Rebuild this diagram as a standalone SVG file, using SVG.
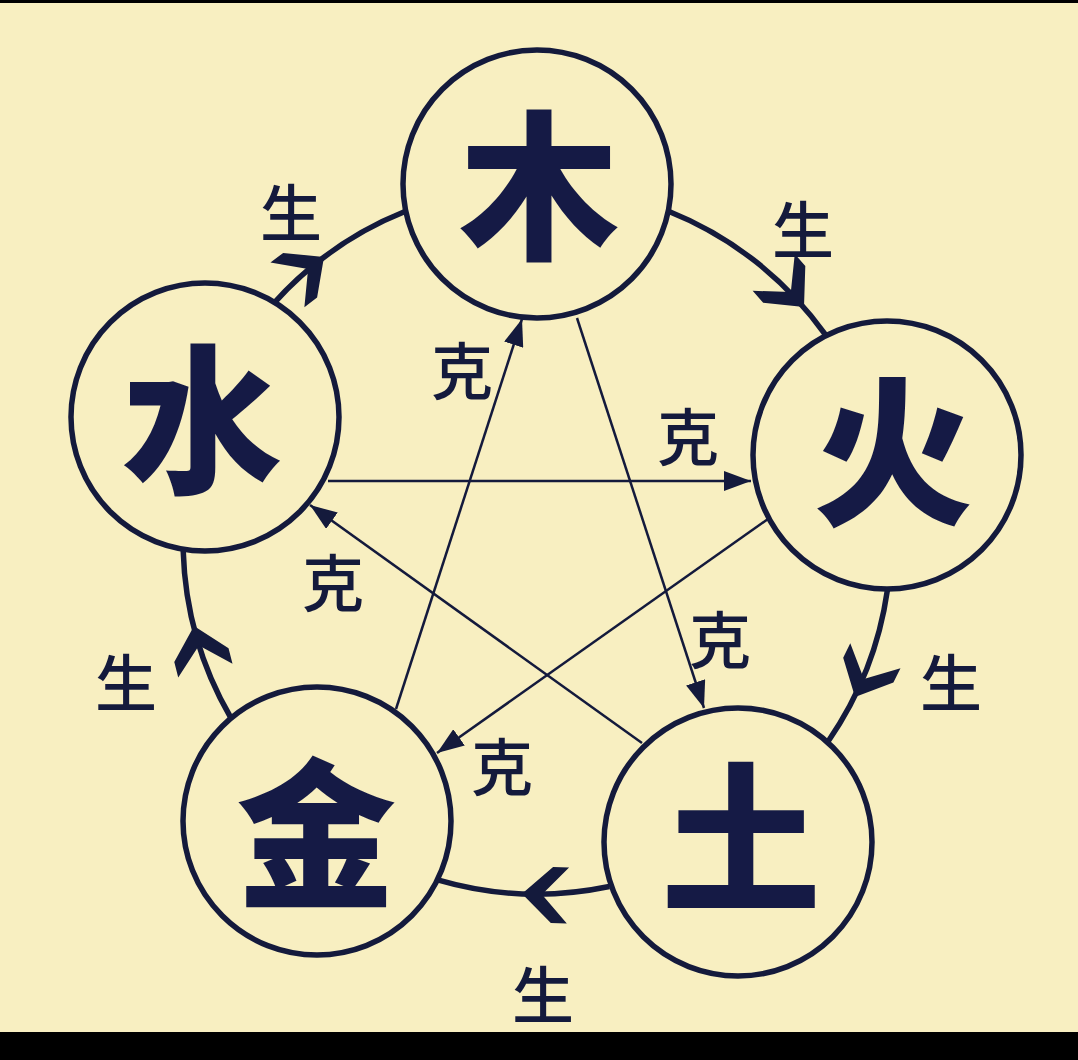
<svg xmlns="http://www.w3.org/2000/svg" width="1078" height="1060" viewBox="0 0 1078 1060">
<style>
.bg{fill:#f8efc1}
.node{fill:#f8efc1;stroke:#141a3c;stroke-width:5.5}
.big{font-family:"Noto Sans CJK SC","Noto Sans CJK JP",sans-serif;font-size:160px;font-weight:900;fill:#151a45;text-anchor:middle}
.lbl{font-family:"Noto Sans CJK SC","Noto Sans CJK JP",sans-serif;font-size:62px;font-weight:500;fill:#141a3c;text-anchor:middle}
.sheng{fill:none;stroke:#141a3c;stroke-width:5.5}
.ke{fill:none;stroke:#141a3c;stroke-width:2.5;marker-end:url(#tri)}
.chev{fill:#141a3c}
</style>
<defs>
<marker id="tri" markerUnits="userSpaceOnUse" markerWidth="28" markerHeight="20" refX="27" refY="10" orient="auto" viewBox="0 0 28 20">
<path d="M0,0 L27,10 L0,20 z" fill="#141a3c"/>
</marker>
<polygon id="chevron" points="0,0 -30,-28 -46,-28 -20,0 -46,28 -30,28"/>
</defs>
<rect class="bg" x="0" y="0" width="1078" height="1060"/>
<rect x="0" y="0" width="1078" height="3" fill="#000"/>
<rect x="0" y="1032" width="1078" height="28" fill="#000"/>

<g id="connectors">
<path class="sheng" d="M273.3,303.8 A354,354 0 0 1 405.5,211.3"/>
<path class="sheng" d="M668.5,211.3 A354,354 0 0 1 825.4,334.7"/>
<path class="sheng" d="M887.4,590.2 A354,354 0 0 1 828.4,741.0"/>
<path class="sheng" d="M609.4,886.5 A354,354 0 0 1 437.6,879.8"/>
<path class="sheng" d="M230.7,717.5 A354,354 0 0 1 183.2,550.8"/>
<use href="#chevron" class="chev" transform="translate(324,257) rotate(-37.3)"/>
<use href="#chevron" class="chev" transform="translate(804,307) rotate(48.8)"/>
<use href="#chevron" class="chev" transform="translate(855,697) rotate(116.3)"/>
<use href="#chevron" class="chev" transform="translate(522,893.7) rotate(182.3)"/>
<use href="#chevron" class="chev" transform="translate(194.0,626) rotate(255.7)"/>
<line class="ke" x1="396" y1="709" x2="522" y2="319"/>
<line class="ke" x1="577" y1="318" x2="704" y2="708"/>
<line class="ke" x1="642" y1="743" x2="310" y2="505"/>
<line class="ke" x1="328" y1="481" x2="751" y2="481"/>
<line class="ke" x1="768" y1="519" x2="437" y2="753"/>
<text class="lbl" x="291" y="237">生</text>
<text class="lbl" x="803" y="254">生</text>
<text class="lbl" x="951" y="707">生</text>
<text class="lbl" x="543" y="1019">生</text>
<text class="lbl" x="126" y="707">生</text>
<text class="lbl" x="462" y="395">克</text>
<text class="lbl" x="688" y="461">克</text>
<text class="lbl" x="333" y="607">克</text>
<text class="lbl" x="720" y="664">克</text>
<text class="lbl" x="502" y="791">克</text>
</g>

<g id="node-wood"><circle class="node" cx="537" cy="184" r="134"/><text class="big" x="539" y="247">木</text></g>
<g id="node-fire"><circle class="node" cx="887" cy="455" r="134"/><text class="big" x="893" y="513">火</text></g>
<g id="node-earth"><circle class="node" cx="738" cy="842" r="134"/><text class="big" x="741" y="899">土</text></g>
<g id="node-metal"><circle class="node" cx="317" cy="821" r="134"/><text class="big" x="316" y="895">金</text></g>
<g id="node-water"><circle class="node" cx="205" cy="417" r="134"/><text class="big" x="202" y="481">水</text></g>
</svg>
